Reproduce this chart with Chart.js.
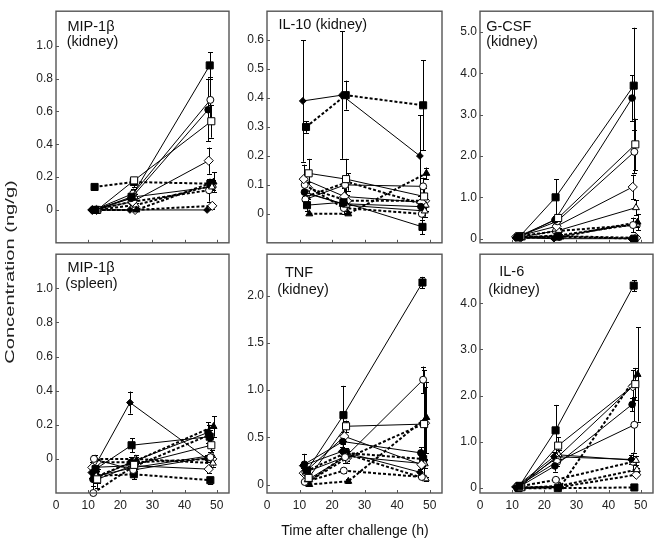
<!DOCTYPE html>
<html>
<head>
<meta charset="utf-8">
<script src="https://cdn.jsdelivr.net/npm/chart.js@4/dist/chart.umd.min.js"></script>
<style>
  html, body { margin: 0; padding: 0; background: #fff; }
  body { width: 661px; height: 544px; position: relative; overflow: hidden; font-family: "Liberation Sans", Arial, sans-serif; color: #111; }
  canvas { position: absolute; }
  #xtitle { position: absolute; left: 255px; top: 522px; width: 200px; text-align: center; font-size: 14px; line-height: 16px; white-space: nowrap; }
  #ytitle { position: absolute; left: -90px; top: 264px; width: 200px; height: 16px; line-height: 16px; text-align: center; font-size: 13px; white-space: nowrap; color: #222; transform: rotate(-90deg) scaleX(1.55); transform-origin: center center; }
</style>
</head>
<body>
<canvas id="c0"></canvas>
<canvas id="c1"></canvas>
<canvas id="c2"></canvas>
<canvas id="c3"></canvas>
<canvas id="c4"></canvas>
<canvas id="c5"></canvas>
<div id="xtitle">Time after challenge (h)</div>
<div id="ytitle">Concentration (ng/g)</div>
<script>
// ---------------- DATA ----------------
const panelTitles = [
  ['MIP-1β', '(kidney)'],
  ['IL-10 (kidney)'],
  ['G-CSF', '(kidney)'],
  ['MIP-1β', '(spleen)'],
  ['TNF', '(kidney)'],
  ['IL-6', '(kidney)']
];
const xTickValues = [0, 10, 20, 30, 40, 50];
const yTicksMip = [0, 0.2, 0.4, 0.6, 0.8, 1.0];
const yTicksIl10 = [0, 0.1, 0.2, 0.3, 0.4, 0.5, 0.6];
const yTicksGcsf = [0, 1, 2, 3, 4, 5];
const yTicksTnf = [0, 0.5, 1.0, 1.5, 2.0];
const yTicksIl6 = [0, 1, 2, 3, 4];

// 12 groups (A..L); sampling times (h) for each group
const groups = ['A', 'B', 'C', 'D', 'E', 'F', 'G', 'H', 'I', 'J', 'K', 'L'];
const groupTimes = [
  [12.3, 23.5, 47.8], [12.8, 24.3, 48.3], [11.5, 23.3, 47.3], [11.8, 24.0, 48.0],
  [11.0, 23.0, 47.0], [11.3, 23.8, 47.5], [12.5, 24.5, 48.5], [12.0, 24.2, 48.0],
  [11.6, 23.6, 47.6], [13.0, 25.0, 49.0], [12.2, 24.8, 48.8], [12.6, 24.6, 48.6]
];

const mip1bKidney = [
  [0, 0.08, 0.88], [0, 0.18, 0.54], [0, 0.07, 0.61], [0, 0.10, 0.67],
  [0, 0.0, 0.0], [0, 0.05, 0.30], [0, 0.08, 0.14], [0.14, 0.17, 0.16],
  [0, 0.05, 0.12], [0, 0.0, 0.17], [0, 0.03, 0.15], [0, 0.0, 0.025]
];
const mip1bKidneyErr = [
  [0, 0.02, 0.08], [0, 0.02, 0.10], [0, 0.02, 0.19], [0, 0.03, 0.14],
  [0, 0, 0], [0, 0.02, 0.08], [0, 0.02, 0.03], [0.01, 0.03, 0.03],
  [0, 0.02, 0.07], [0, 0, 0.06], [0, 0.01, 0.03], [0, 0, 0.02]
];

const il10Kidney = [
  [0.03, 0.04, -0.045], [0.14, 0.12, 0.06], [0.075, 0.035, 0.025], [0.05, 0.10, 0.095],
  [0.39, 0.41, 0.20], [0.12, 0.06, 0.04], [0.07, 0.03, 0.01], [0.30, 0.41, 0.375],
  [0.10, 0.02, 0.0], [0.0, 0.0, 0.14], [0.06, 0.11, 0.03], [0.09, 0.045, 0.045]
];
const il10KidneyErr = [
  [0.02, 0.02, 0.025], [0.05, 0.07, 0.03], [0.02, 0.02, 0.02], [0.02, 0.03, 0.03],
  [0.21, 0.22, 0.14], [0.05, 0.03, 0.02], [0.02, 0.02, 0.02], [0.02, 0.05, 0.155],
  [0.03, 0.02, 0.02], [0, 0, 0.02], [0.02, 0.03, 0.02], [0.02, 0.02, 0.02]
];

const gcsfKidney = [
  [0.05, 1.0, 3.7], [0.06, 0.5, 2.28], [0.04, 0.45, 3.4], [0.05, 0.42, 2.1],
  [0.02, 0.0, 0.0], [0.05, 0.3, 1.25], [0.04, 0.2, 0.75], [0.03, 0.05, 0.0],
  [0.05, 0.18, 0.33], [0.02, 0.04, 0.40], [0.03, 0.08, 0.35], [0.03, 0.06, 0.02]
];
const gcsfKidneyErr = [
  [0.02, 0.44, 1.4], [0.02, 0.1, 0.62], [0.02, 0.1, 0.55], [0.02, 0.1, 0.52],
  [0, 0, 0], [0.02, 0.08, 0.3], [0.02, 0.05, 0.18], [0.01, 0.02, 0.02],
  [0.02, 0.05, 0.18], [0.01, 0.02, 0.2], [0.01, 0.03, 0.08], [0.01, 0.02, 0.02]
];

const mip1bSpleen = [
  [-0.06, 0.08, 0.13], [-0.12, -0.035, 0.08], [-0.12, -0.02, 0.155], [0.0, -0.065, 0.01],
  [-0.08, 0.33, 0.0], [-0.05, -0.04, -0.06], [-0.1, -0.05, 0.02], [-0.1, -0.09, -0.125],
  [-0.2, -0.05, 0.14], [-0.1, -0.01, 0.19], [0.0, 0.0, -0.025], [-0.02, -0.02, 0.0]
];
const mip1bSpleenErr = [
  [0.03, 0.04, 0.04], [0.05, 0.03, 0.04], [0.04, 0.03, 0.06], [0.02, 0.03, 0.03],
  [0.03, 0.065, 0.02], [0.03, 0.02, 0.02], [0.04, 0.02, 0.03], [0.04, 0.03, 0.02],
  [0.08, 0.03, 0.06], [0.04, 0.02, 0.06], [0.02, 0.02, 0.02], [0.02, 0.02, 0.02]
];

const tnfKidney = [
  [0.15, 0.735, 2.14], [0.07, 0.617, 0.64], [0.215, 0.455, 0.335], [0.13, 0.29, 1.11],
  [0.2, 0.35, 0.13], [0.12, 0.51, 0.21], [0.05, 0.3, 0.22], [0.14, 0.335, 0.27],
  [0.027, 0.147, 0.08], [0.0, 0.034, 0.71], [0.02, 0.32, 0.06], [0.03, 0.28, 0.65]
];
const tnfKidneyErr = [
  [0.03, 0.31, 0.06], [0.03, 0.06, 0.57], [0.11, 0.1, 0.06], [0.04, 0.06, 0.14],
  [0.03, 0.05, 0.03], [0.03, 0.05, 0.04], [0.02, 0.05, 0.04], [0.03, 0.05, 0.05],
  [0.02, 0.03, 0.02], [0.01, 0.02, 0.38], [0.02, 0.04, 0.02], [0.02, 0.05, 0.38]
];

const il6Kidney = [
  [0.05, 1.25, 4.38], [0.02, 0.92, 2.25], [0.0, 0.48, 1.81], [0.05, 0.57, 1.37],
  [0.02, 0.68, 0.62], [0.03, 0.65, 2.2], [0.04, 0.72, 0.60], [0.0, 0.0, 0.015],
  [0.03, 0.18, 0.57], [0.0, 0.03, 2.46], [0.0, 0.05, 0.40], [0.02, 0.02, 0.29]
];
const il6KidneyErr = [
  [0.02, 0.55, 0.12], [0.03, 0.18, 0.35], [0.02, 0.12, 0.15], [0.05, 0.1, 0.6],
  [0.02, 0.1, 0.1], [0.02, 0.1, 0.35], [0.02, 0.1, 0.1], [0, 0, 0],
  [0.02, 0.02, 0.2], [0.01, 0.02, 1.02], [0.01, 0.02, 0.04], [0.01, 0.02, 0.03]
];

// ---------------- STYLE / LAYOUT ----------------
const FONT = '"Liberation Sans", Arial, sans-serif';
const groupStyle = [
  { shape: 'rect', filled: true, dotted: false, r: 5 },
  { shape: 'rect', filled: false, dotted: false, r: 5 },
  { shape: 'circle', filled: true, dotted: false, r: 3.3 },
  { shape: 'circle', filled: false, dotted: false, r: 3.5 },
  { shape: 'rectRot', filled: true, dotted: false, r: 3.4 },
  { shape: 'rectRot', filled: false, dotted: false, r: 4.6 },
  { shape: 'triangle', filled: false, dotted: false, r: 4 },
  { shape: 'rect', filled: true, dotted: true, r: 5 },
  { shape: 'circle', filled: false, dotted: true, r: 3.5 },
  { shape: 'triangle', filled: true, dotted: true, r: 4 },
  { shape: 'triangle', filled: false, dotted: true, r: 4 },
  { shape: 'rectRot', filled: false, dotted: true, r: 4.6 }
];
const colLeft = [56, 267, 480];
const colRight = [231, 444, 655];
const rowTop = [4, 247];
const rowBottom = [247, 493];
const YW = 44, PADT = 3, PADR = 4;
const titlePos = [
  [[35, 19.5], [36.5, 34.5]],
  [[55.7, 17.7]],
  [[28.7, 20], [32, 35]],
  [[35, 18], [35.5, 33.5]],
  [[32, 22.3], [36, 39.7]],
  [[31.7, 21.3], [34, 39.7]]
];

const panels = [
  { vals: mip1bKidney, errs: mip1bKidneyErr, yMin: -0.2, yMax: 1.21, yTicks: yTicksMip },
  { vals: il10Kidney, errs: il10KidneyErr, yMin: -0.1, yMax: 0.70, yTicks: yTicksIl10 },
  { vals: gcsfKidney, errs: gcsfKidneyErr, yMin: -0.1, yMax: 5.5, yTicks: yTicksGcsf },
  { vals: mip1bSpleen, errs: mip1bSpleenErr, yMin: -0.2, yMax: 1.2, yTicks: yTicksMip },
  { vals: tnfKidney, errs: tnfKidneyErr, yMin: -0.09, yMax: 2.44, yTicks: yTicksTnf },
  { vals: il6Kidney, errs: il6KidneyErr, yMin: -0.105, yMax: 5.06, yTicks: yTicksIl6 }
];

const framePlugin = {
  id: 'framePlugin',
  beforeDatasetsDraw(chart) {
    const ctx = chart.ctx, a = chart.chartArea;
    const xs = chart.scales.x, ys = chart.scales.y;
    ctx.save();
    // error bars
    ctx.strokeStyle = '#000';
    ctx.lineWidth = 1;
    ctx.setLineDash([]);
    chart.data.datasets.forEach(ds => {
      ds.data.forEach((p, i) => {
        const e = ds.errs[i];
        if (!e) return;
        const px = Math.round(xs.getPixelForValue(p.x)) + 0.5;
        const y1 = ys.getPixelForValue(p.y + e);
        const y2 = ys.getPixelForValue(p.y - e);
        const t = Math.max(y1, a.top), b = Math.min(y2, a.bottom);
        ctx.beginPath();
        ctx.moveTo(px, t); ctx.lineTo(px, b);
        if (y1 >= a.top) { ctx.moveTo(px - 2.5, Math.round(y1) + 0.5); ctx.lineTo(px + 2.5, Math.round(y1) + 0.5); }
        if (y2 <= a.bottom) { ctx.moveTo(px - 2.5, Math.round(y2) + 0.5); ctx.lineTo(px + 2.5, Math.round(y2) + 0.5); }
        ctx.stroke();
      });
    });
    ctx.restore();
  },
  afterDraw(chart) {
    const ctx = chart.ctx, a = chart.chartArea;
    const xs = chart.scales.x, ys = chart.scales.y;
    ctx.save();
    ctx.strokeStyle = '#555';
    ctx.lineWidth = 1.4;
    ctx.setLineDash([]);
    ctx.strokeRect(a.left, a.top, a.right - a.left, a.bottom - a.top);
    ctx.lineWidth = 1;
    ctx.beginPath();
    xTickValues.forEach(v => {
      const px = Math.round(xs.getPixelForValue(v)) + 0.5;
      if (px <= a.left + 2 || px >= a.right - 2) return;
      ctx.moveTo(px, a.bottom); ctx.lineTo(px, a.bottom - 3);
    });
    chart.options.plugins.framePlugin.yTicks.forEach(v => {
      const py = Math.round(ys.getPixelForValue(v)) + 0.5;
      ctx.moveTo(a.left, py); ctx.lineTo(a.left + 3, py);
    });
    ctx.stroke();
    // panel titles
    const opt = chart.options.plugins.framePlugin;
    ctx.fillStyle = '#111';
    ctx.font = '14.5px ' + FONT;
    ctx.textAlign = 'center';
    ctx.textBaseline = 'alphabetic';
    opt.title.forEach((line, k) => {
      const pos = opt.titlePos[k];
      ctx.fillText(line, a.left + pos[0], a.top + pos[1]);
    });
    ctx.restore();
  }
};

panels.forEach((pn, idx) => {
  const col = idx % 3, row = Math.floor(idx / 3);
  const showX = row === 1;
  const XH = showX ? 24 : 6;
  const cv = document.getElementById('c' + idx);
  const w = YW + (colRight[col] - colLeft[col]) + PADR;
  const h = PADT + (rowBottom[row] - rowTop[row]) + XH;
  cv.width = w; cv.height = h;
  cv.style.width = w + 'px'; cv.style.height = h + 'px';
  cv.style.left = (colLeft[col] - YW) + 'px';
  cv.style.top = (rowTop[row] - PADT) + 'px';

  const datasets = groups.map((g, gi) => {
    const st = groupStyle[gi];
    return {
      label: g,
      data: groupTimes[gi].map((t, i) => ({ x: t, y: pn.vals[gi][i] })),
      errs: pn.errs[gi],
      showLine: true,
      borderColor: '#000',
      borderWidth: st.dotted ? 2 : 1,
      borderDash: st.dotted ? [3, 2] : [],
      pointStyle: st.shape,
      pointRadius: st.r,
      pointHoverRadius: st.r,
      pointBackgroundColor: st.filled ? '#000' : '#fff',
      pointBorderColor: '#000',
      pointBorderWidth: 1,
      fill: false,
      tension: 0,
      clip: false
    };
  });

  new Chart(cv, {
    type: 'scatter',
    data: { datasets },
    options: {
      responsive: false,
      maintainAspectRatio: false,
      devicePixelRatio: 1,
      animation: false,
      events: [],
      layout: { padding: { top: PADT, right: PADR, left: 0, bottom: 0 } },
      plugins: {
        legend: { display: false },
        tooltip: { enabled: false },
        framePlugin: { yTicks: pn.yTicks, title: panelTitles[idx], titlePos: titlePos[idx] }
      },
      scales: {
        x: {
          type: 'linear', min: 0, max: 53.8,
          afterFit(s) { s.height = XH; },
          afterBuildTicks(s) { s.ticks = xTickValues.map(v => ({ value: v })); },
          ticks: { display: showX, font: { size: 12, family: FONT }, color: '#222', padding: 5, maxRotation: 0, autoSkip: false },
          grid: { display: false, drawTicks: false },
          border: { display: false }
        },
        y: {
          type: 'linear', min: pn.yMin, max: pn.yMax,
          afterFit(s) { s.width = YW; },
          afterBuildTicks(s) { s.ticks = pn.yTicks.map(v => ({ value: v })); },
          ticks: {
            font: { size: 12, family: FONT }, color: '#222', padding: 3, autoSkip: false,
            callback: (v) => Math.abs(v) < 1e-9 ? '0' : Number(v).toFixed(1)
          },
          grid: { display: false, drawTicks: false },
          border: { display: false }
        }
      }
    },
    plugins: [framePlugin]
  });
});
</script>
</body>
</html>
